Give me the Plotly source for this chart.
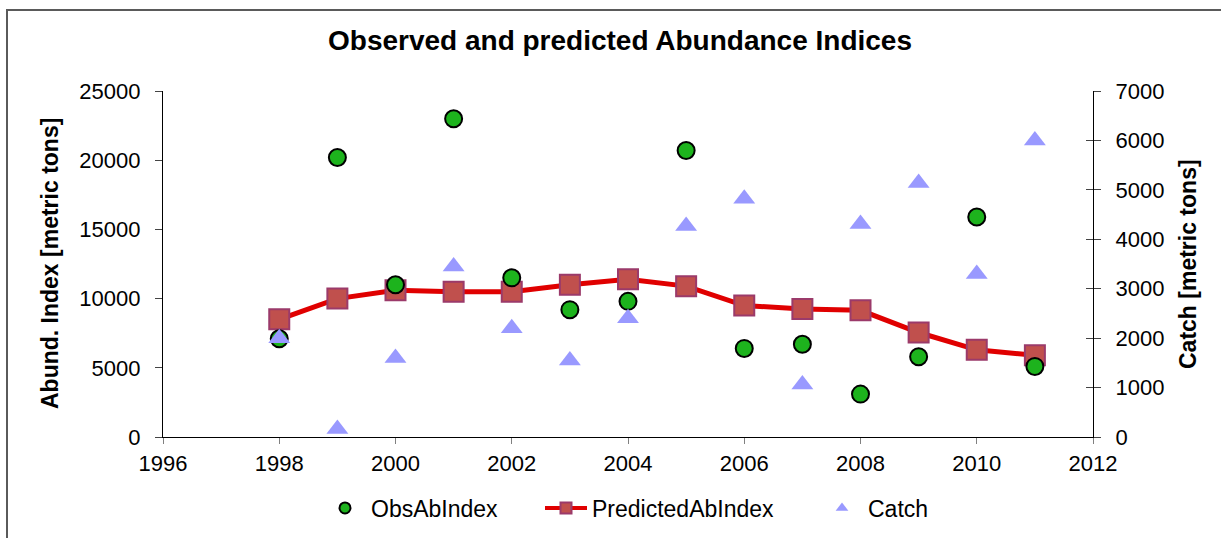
import plotly.graph_objects as go

# Survey years
years = [1998, 1999, 2000, 2001, 2002, 2003, 2004, 2005, 2006, 2007, 2008, 2009, 2010, 2011]

# Observed abundance index (metric tons)
obs_ab_index = [7100, 20200, 11000, 23000, 11500, 9200, 9800, 20700, 6400, 6700, 3100, 5800, 15900, 5100]

# Model-predicted abundance index (metric tons)
predicted_ab_index = [8500, 10000, 10600, 10500, 10500, 11000, 11400, 10900, 9500, 9250, 9150, 7550, 6300, 5900]

# Catch (metric tons), right axis
catch = [2000, 160, 1600, 3450, 2200, 1550, 2400, 4270, 4820, 1060, 4310, 5140, 3300, 6000]

FONT = "Liberation Sans, Arial, sans-serif"

OBS_MARKER = dict(symbol="circle", color="#1DB31D", line=dict(color="black", width=2))
PRED_MARKER = dict(symbol="square", color="#C0504D", line=dict(color="#9B3A6A", width=2))
CATCH_MARKER = dict(symbol="triangle-up", color="#9999FF", line=dict(width=0))
PRED_LINE = dict(color="#E00000", width=5)

fig = go.Figure()

# data traces (legend entries are drawn by the small-marker key traces below)
fig.add_trace(go.Scatter(
    x=years, y=predicted_ab_index, name="PredictedAbIndex",
    mode="lines+markers", showlegend=False,
    line=PRED_LINE, marker=dict(size=20, **PRED_MARKER),
))
fig.add_trace(go.Scatter(
    x=years, y=obs_ab_index, name="ObsAbIndex",
    mode="markers", showlegend=False,
    marker=dict(size=17, **OBS_MARKER),
))
fig.add_trace(go.Scatter(
    x=years, y=catch, name="Catch", yaxis="y2",
    mode="markers", showlegend=False,
    marker=dict(size=19, **CATCH_MARKER),
))
# invisible trace that carries the inward half of the right-axis ticks
fig.add_trace(go.Scatter(x=[None], y=[None], yaxis="y3", showlegend=False,
                         hoverinfo="skip"))

# legend key entries with compact symbols
fig.add_trace(go.Scatter(x=[None], y=[None], name="ObsAbIndex", mode="markers",
                         legendrank=1, legendwidth=164,
                         marker=dict(size=11, **OBS_MARKER)))
fig.add_trace(go.Scatter(x=[None], y=[None], name="PredictedAbIndex",
                         mode="lines+markers", legendrank=2, legendwidth=219,
                         line=dict(color="#E00000", width=4),
                         marker=dict(size=11, **PRED_MARKER)))
fig.add_trace(go.Scatter(x=[None], y=[None], name="Catch", mode="markers",
                         legendrank=3, marker=dict(size=11, **CATCH_MARKER)))

tick_font = dict(family=FONT, size=22, color="black")

fig.update_layout(
    width=1221, height=538,
    margin=dict(l=163, r=128, t=91, b=101, autoexpand=False),
    paper_bgcolor="white", plot_bgcolor="white",
    font=dict(family=FONT, color="black"),
    title=dict(text="Observed and predicted Abundance Indices",
               font=dict(family=FONT, size=28, color="black", weight="bold"),
               xref="paper", x=0.4914, xanchor="center",
               yref="container", y=1 - 40 / 538, yanchor="middle"),
    xaxis=dict(range=[1996, 2012], dtick=2, tick0=1996, showgrid=False,
               zeroline=False, showline=True, linecolor="black", linewidth=1.3,
               ticks="outside", ticklen=6, tickcolor="#808080",
               tickfont=tick_font, ticklabelstandoff=0),
    yaxis=dict(range=[0, 25000], dtick=5000, tickformat="d", showgrid=False,
               zeroline=False, showline=True, linecolor="black", linewidth=1.3,
               ticks="outside", ticklen=7, tickcolor="#444",
               tickfont=tick_font, ticklabelstandoff=10),
    yaxis2=dict(range=[0, 7000], dtick=1000, tickformat="d", overlaying="y",
                side="right", anchor="x", showgrid=False, zeroline=False,
                showline=True, linecolor="black", linewidth=1.3,
                ticks="outside", ticklen=7, tickcolor="#444",
                tickfont=tick_font, ticklabelstandoff=10),
    yaxis3=dict(range=[0, 7000], dtick=1000, overlaying="y", side="right",
                anchor="x", showgrid=False, zeroline=False, showline=False,
                ticks="inside", ticklen=7, tickcolor="#444",
                showticklabels=False),
    showlegend=True,
    legend=dict(orientation="h", x=(319 - 163) / 930, xanchor="left",
                y=(437 - 508) / 346, yanchor="middle",
                itemwidth=42, font=dict(family=FONT, size=23, color="black"),
                bgcolor="rgba(0,0,0,0)", traceorder="normal"),
    annotations=[
        dict(text="Abund. Index [metric tons]", textangle=-90,
             xref="paper", yref="paper", x=(50 - 163) / 930, y=0.5,
             xanchor="center", yanchor="middle", showarrow=False,
             font=dict(family=FONT, size=23, color="black", weight="bold")),
        dict(text="Catch [metric tons]", textangle=-90,
             xref="paper", yref="paper", x=(1188 - 163) / 930, y=0.5,
             xanchor="center", yanchor="middle", showarrow=False,
             font=dict(family=FONT, size=23, color="black", weight="bold")),
    ],
    shapes=[
        dict(type="rect", xref="paper", yref="paper",
             x0=(7 - 163) / 930, x1=(1235 - 163) / 930,
             y0=(437 - 560) / 346, y1=(437 - 10) / 346,
             line=dict(color="#5A5A5A", width=2), fillcolor="rgba(0,0,0,0)"),
    ],
)

fig.write_html("out.html")
